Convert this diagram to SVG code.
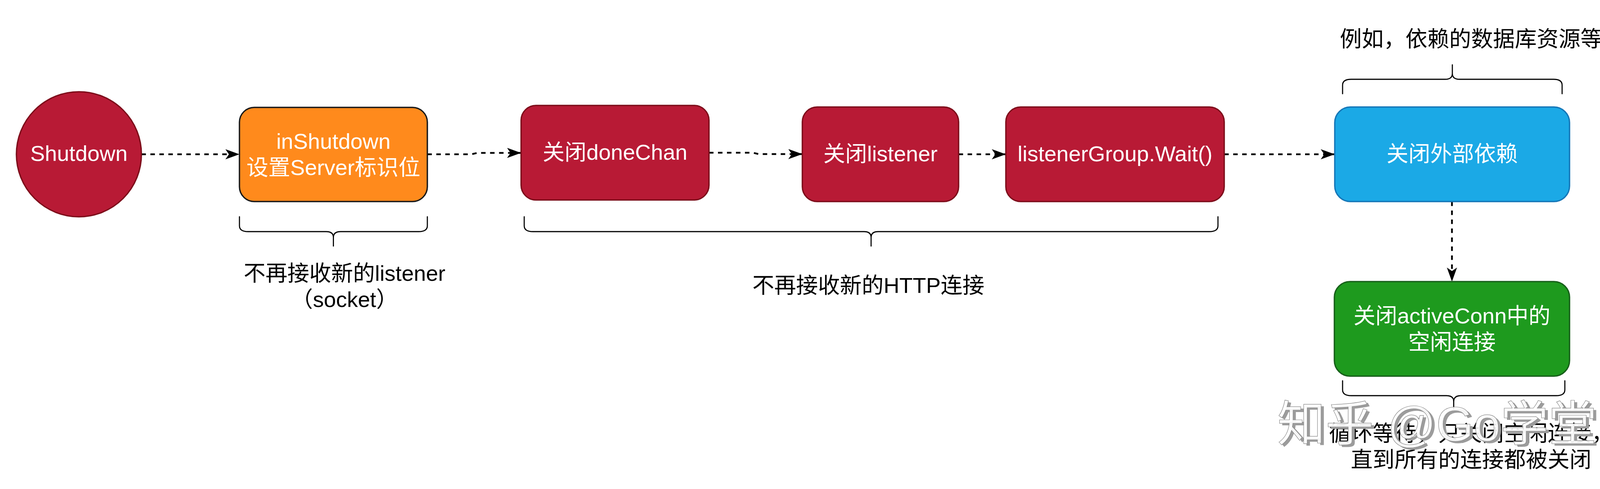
<svg xmlns="http://www.w3.org/2000/svg" width="4192" height="1252" viewBox="0 0 4192 1252">
  <style>
    text { font-family: "Liberation Sans", "Noto Sans CJK SC", sans-serif; font-size: 56px; text-anchor: middle; }
    .w { fill: #ffffff; }
    .k { fill: #000000; }
    .red { fill: #B81A35; stroke: #7E0E1B; stroke-width: 3.5; }
    .orange { fill: #FF8A1C; stroke: #1a1a1a; stroke-width: 3.5; }
    .blue { fill: #1BA9E6; stroke: #1577B8; stroke-width: 3.5; }
    .green { fill: #1E9A1E; stroke: #17601A; stroke-width: 3.5; }
    .edge { fill: none; stroke: #000; stroke-width: 4.5; stroke-dasharray: 11.5 11.5; marker-end: url(#arr); }
    .brace { fill: none; stroke: #000; stroke-width: 2.8; stroke-linecap: round; stroke-linejoin: round; }
    .wm-shadow { fill: #9c9c9c; font-size: 124px; text-anchor: start; }
    .wm { fill: #ffffff; stroke: #8a8a8a; stroke-width: 1.2; font-size: 124px; text-anchor: start; }
  </style>
  <defs>
    <marker id="arr" markerUnits="userSpaceOnUse" markerWidth="36" markerHeight="26" viewBox="0 0 36 26" refX="36" refY="13" orient="auto">
      <path d="M0,0 L36,13 L0,26 L9,13 Z" fill="#000"/>
    </marker>
  </defs>
  <rect x="0" y="0" width="4192" height="1252" fill="#ffffff"/>

  <g id="connectors">
    <path class="edge" d="M362 395 L613 395"/>
    <path class="edge" d="M1094 395 L1207 395 L1222 391.5 L1334 391.5"/>
    <path class="edge" d="M1815 391 L1927 391 L1942 394.5 L2054 394.5"/>
    <path class="edge" d="M2454 395 L2575 395"/>
    <path class="edge" d="M3134 395 L3417 395"/>
    <path class="edge" d="M3717 516 L3717 721"/>
  </g>

  <g id="node-shutdown">
    <circle class="red" cx="202" cy="395" r="160"/>
    <text class="w" x="202" y="412">Shutdown</text>
  </g>
  <g id="node-inshutdown">
    <rect class="orange" x="613" y="275" width="481" height="241" rx="38" ry="38"/>
    <text class="w" x="853.5" y="381">inShutdown</text>
    <text class="w" x="853.5" y="448">设置Server标识位</text>
  </g>
  <g id="node-donechan">
    <rect class="red" x="1334" y="270" width="481" height="242" rx="38" ry="38"/>
    <text class="w" x="1574.5" y="409">关闭doneChan</text>
  </g>
  <g id="node-listener">
    <rect class="red" x="2054" y="274" width="400" height="242" rx="38" ry="38"/>
    <text class="w" x="2254" y="413">关闭listener</text>
  </g>
  <g id="node-wait">
    <rect class="red" x="2575" y="274" width="559" height="242" rx="38" ry="38"/>
    <text class="w" x="2854.5" y="413">listenerGroup.Wait()</text>
  </g>
  <g id="node-external">
    <rect class="blue" x="3417" y="274" width="601" height="242" rx="40" ry="40"/>
    <text class="w" x="3717.5" y="413">关闭外部依赖</text>
  </g>
  <g id="node-idle">
    <rect class="green" x="3416" y="721" width="602" height="242" rx="40" ry="40"/>
    <text class="w" x="3717" y="828">关闭activeConn中的</text>
    <text class="w" x="3717" y="895">空闲连接</text>
  </g>

  <g id="annotations">
    <path class="brace" d="M613 555 L613 578 Q613 593 635 593 L835 593 Q853.5 593 853.5 608 L853.5 630 M853.5 608 Q853.5 593 872 593 L1072 593 Q1094 593 1094 578 L1094 555"/>
    <text class="k" x="882" y="719">不再接收新的listener</text>
    <text class="k" x="882" y="786">（socket）</text>

    <path class="brace" d="M1342 555 L1342 578 Q1342 593 1364 593 L2212 593 Q2230 593 2230 608 L2230 630 M2230 608 Q2230 593 2248 593 L3096 593 Q3118 593 3118 578 L3118 555"/>
    <text class="k" x="2223" y="750">不再接收新的HTTP连接</text>

    <path class="brace" d="M3437 240 L3437 218 Q3437 203 3459 203 L3700 203 Q3718 203 3718 188 L3718 166 M3718 188 Q3718 203 3736 203 L3977 203 Q3999 203 3999 218 L3999 240"/>
    <text class="k" x="3766" y="119">例如，依赖的数据库资源等</text>

    <path class="brace" d="M3437 975 L3437 998 Q3437 1013 3459 1013 L3703 1013 Q3721.5 1013 3721.5 1028 L3721.5 1050 M3721.5 1028 Q3721.5 1013 3740 1013 L3984 1013 Q4006 1013 4006 998 L4006 975"/>
    <text class="k" x="3766" y="1129">循环等待，只关闭空闲连接，</text>
    <text class="k" x="3766" y="1196">直到所有的连接都被关闭</text>
  </g>

  <g id="watermark">
    <text class="wm-shadow" x="3277" y="1134" textLength="818" lengthAdjust="spacingAndGlyphs">知乎 @Go学堂</text>
    <text class="wm" x="3270" y="1129" textLength="818" lengthAdjust="spacingAndGlyphs" fill-opacity="0.9">知乎 @Go学堂</text>
  </g>
</svg>
